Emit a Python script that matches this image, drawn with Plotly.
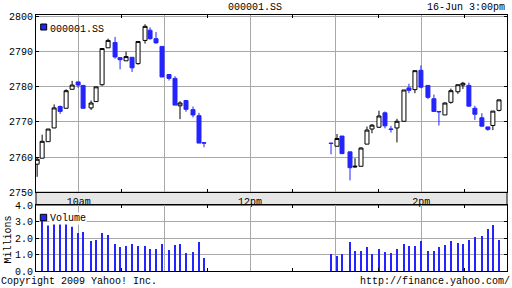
import plotly.graph_objects as go

# ---- data ----
# time of each bar, minutes after 09:30
times = [0.8, 4.3, 8.5, 12.7, 16.9, 21.1, 25.3, 29.5, 33.0, 38.6, 42.1, 46.3, 50.5, 55.4,
         58.9, 63.1, 67.3, 71.5, 76.4, 79.9, 84.1, 88.3, 93.2, 97.4, 100.9, 105.1, 110.0,
         114.2, 117.7,
         206.7, 210.9, 214.4, 220.0, 223.5, 227.7, 231.9, 235.4, 240.3, 244.5, 248.7, 252.9,
         257.8, 261.3, 265.5, 269.7, 274.6, 278.8, 282.3, 286.5, 290.7, 295.6, 299.1, 303.3,
         307.5, 312.4, 316.6, 320.1, 324.4]
opens = [2758.0, 2759.7, 2764.4, 2768.3, 2774.4, 2773.9, 2779.3, 2781.4, 2780.4, 2774.0,
         2775.8, 2780.6, 2791.1, 2792.6, 2788.3, 2787.4, 2788.4, 2786.6, 2793.2, 2796.1,
         2793.7, 2791.5, 2783.5, 2782.4, 2774.6, 2776.1, 2773.5, 2771.8, 2764.1,
         2764.0, 2763.1, 2766.0, 2761.5, 2757.2, 2757.4, 2763.7, 2768.0, 2768.5, 2772.6,
         2768.0, 2768.3, 2770.2, 2779.7, 2779.2, 2784.7, 2780.4, 2776.6, 2773.0, 2772.0,
         2775.6, 2778.6, 2780.5, 2780.4, 2773.9, 2771.2, 2768.6, 2769.0, 2773.3]
highs = [2759.9, 2766.4, 2768.0, 2775.0, 2774.7, 2779.3, 2781.7, 2781.4, 2780.4, 2776.1,
         2780.0, 2791.0, 2793.7, 2794.2, 2788.3, 2790.0, 2788.4, 2792.9, 2797.8, 2796.9,
         2795.6, 2791.5, 2783.5, 2783.0, 2775.9, 2776.1, 2774.4, 2772.6, 2764.1,
         2764.0, 2766.6, 2766.0, 2761.5, 2759.7, 2762.8, 2768.7, 2769.4, 2773.2, 2773.0,
         2768.9, 2770.9, 2779.1, 2780.9, 2784.6, 2786.1, 2780.4, 2777.8, 2773.0, 2775.6,
         2779.5, 2780.6, 2781.4, 2781.2, 2774.6, 2772.5, 2768.6, 2773.1, 2776.3]
lows = [2754.4, 2759.7, 2764.4, 2768.3, 2772.3, 2773.9, 2779.3, 2779.7, 2773.9, 2773.4,
        2775.8, 2780.3, 2791.1, 2788.0, 2785.0, 2787.4, 2784.2, 2786.3, 2792.3, 2793.4,
        2792.3, 2782.8, 2781.8, 2774.8, 2770.8, 2772.9, 2771.3, 2764.0, 2762.8,
        2760.8, 2763.1, 2761.0, 2753.4, 2757.0, 2757.4, 2763.7, 2766.8, 2768.3, 2768.2,
        2767.0, 2764.2, 2770.2, 2778.2, 2778.2, 2779.6, 2776.5, 2773.0, 2769.0, 2772.0,
        2775.2, 2778.0, 2779.4, 2774.5, 2770.6, 2768.8, 2767.5, 2767.7, 2773.0]
closes = [2759.4, 2764.5, 2768.0, 2774.0, 2773.0, 2778.9, 2780.5, 2780.5, 2773.9, 2775.4,
          2780.0, 2790.9, 2793.2, 2788.5, 2787.7, 2788.6, 2785.4, 2792.9, 2797.2, 2793.7,
          2792.5, 2782.8, 2782.4, 2774.8, 2775.4, 2773.6, 2772.0, 2764.0, 2764.0,
          2763.9, 2765.3, 2761.0, 2757.0, 2757.4, 2762.6, 2767.7, 2769.1, 2771.7, 2768.9,
          2767.9, 2770.2, 2779.1, 2779.0, 2784.6, 2779.9, 2777.0, 2773.0, 2772.9, 2775.4,
          2778.9, 2780.6, 2781.0, 2774.5, 2772.2, 2768.8, 2767.9, 2773.1, 2776.3]
volumes = [None, 3.2, 2.78, 2.94, 2.94, 2.94, 2.71, 2.33, 2.39, 1.84, 1.90, 2.33, 2.20, 1.65,
           1.47, 1.53, 1.65, 1.53, 1.53, 1.35, 1.35, 1.65, 1.29, 1.59, 1.65, 1.10, 1.16,
           1.78, 0.80,
           1.04, 0.92, 1.04, 1.78, 1.22, 1.22, 1.47, 1.04, 1.35, 1.16, 1.10, 1.35, 1.65,
           1.53, 1.53, 1.84, 1.22, 1.22, 1.47, 1.59, 1.84, 1.71, 1.65, 1.90, 2.08, 2.14,
           2.57, 2.82, 1.90]

hour_ticks = [30, 90, 150, 210, 270]
hour_labels = ["10am", "", "12pm", "", "2pm"]
half_hour_ticks = [60, 120, 180, 240, 300]
price_ticks = [2750, 2760, 2770, 2780, 2790, 2800]
vol_ticks = [0, 1, 2, 3, 4]

BLUE = "#2424ff"
GRID = "#a8a8a8"
FONT = "Liberation Mono"

W, H = 512, 288
ML, MR, MT, MB = 36, 5, 15, 17
PW, PH = W - ML - MR, H - MT - MB


def px(x):
    return (x - ML) / PW


def py(y):
    return (H - MB - y) / PH


fig = go.Figure()
fig.add_trace(go.Candlestick(
    x=times, open=opens, high=highs, low=lows, close=closes,
    increasing=dict(line=dict(color="black", width=1), fillcolor="white"),
    decreasing=dict(line=dict(color=BLUE, width=1), fillcolor=BLUE),
    whiskerwidth=0, showlegend=False, xaxis="x", yaxis="y", hoverinfo="skip"))
fig.add_trace(go.Bar(
    x=times, y=volumes, width=0.45, marker=dict(color=BLUE, line=dict(width=0)),
    showlegend=False, xaxis="x2", yaxis="y2", hoverinfo="skip"))

main_bottom = py(192.3)
vol_top = py(205)

common_x = dict(range=[0, 330], tickvals=hour_ticks, showgrid=True, gridcolor=GRID,
                gridwidth=1, showline=True, linecolor="black", linewidth=1, mirror="ticks",
                ticks="", zeroline=False, fixedrange=True,
                minor=dict(tickvals=half_hour_ticks, ticks="inside", ticklen=3,
                           tickcolor="black", tickwidth=1, showgrid=False))
common_y = dict(showgrid=True, gridcolor=GRID, gridwidth=1, showline=True,
                linecolor="black", linewidth=1, mirror="ticks", ticks="inside",
                ticklen=3, tickcolor="black", zeroline=False, fixedrange=True,
                tickfont=dict(family=FONT, size=10, color="black"))

fig.update_layout(
    width=W, height=H, margin=dict(l=ML, r=MR, t=MT, b=MB, pad=0),
    paper_bgcolor="white", plot_bgcolor="white",
    font=dict(family=FONT, size=10, color="black"),
    boxgap=0.2, boxgroupgap=0,
    xaxis=dict(domain=[0, 1], anchor="y", ticktext=hour_labels,
               tickfont=dict(family=FONT, size=10, color="black"),
               rangeslider=dict(visible=False), **common_x),
    yaxis=dict(domain=[main_bottom, 1], anchor="x", range=[2750, 2800.43],
               tickvals=price_ticks, **common_y),
    xaxis2=dict(domain=[0, 1], anchor="y2", showticklabels=False, **common_x),
    yaxis2=dict(domain=[0, vol_top], anchor="x2", range=[0, 4.04],
                tickvals=vol_ticks, tickformat=".1f", **common_y),
    showlegend=False,
)

# grey band between the panels
fig.add_shape(type="rect", xref="paper", yref="paper", x0=0, x1=1,
              y0=vol_top, y1=main_bottom, fillcolor="#e6e6e6",
              line=dict(color="black", width=1), layer="below")

# legend squares
fig.add_shape(type="rect", xref="paper", yref="paper", x0=px(40.7), x1=px(46.7),
              y0=py(30), y1=py(24), fillcolor=BLUE, line=dict(color="black", width=1))
fig.add_shape(type="rect", xref="paper", yref="paper", x0=px(40.3), x1=px(46.7),
              y0=py(220.7), y1=py(214.3), fillcolor=BLUE, line=dict(color="black", width=1))


def ann(text, x, y, xanchor="left", yanchor="middle", angle=0, bg=None):
    fig.add_annotation(text=text, xref="paper", yref="paper", x=px(x), y=py(y),
                       xanchor=xanchor, yanchor=yanchor, showarrow=False, textangle=angle,
                       font=dict(family=FONT, size=10, color="black"),
                       bgcolor=bg, borderpad=0)


ann("000001.SS", 49, 29)
ann("Volume", 49, 218.5, bg="white")
ann("000001.SS", 255.2, 7, xanchor="center")
ann("16-Jun 3:00pm", 506, 7, xanchor="right")
ann("Copyright 2009 Yahoo! Inc.", 0, 281.5)
ann("http://finance.yahoo.com/", 511, 281.5, xanchor="right")
ann("Millions", 7.5, 240, xanchor="center", angle=-90)

fig.write_html("out.html")
